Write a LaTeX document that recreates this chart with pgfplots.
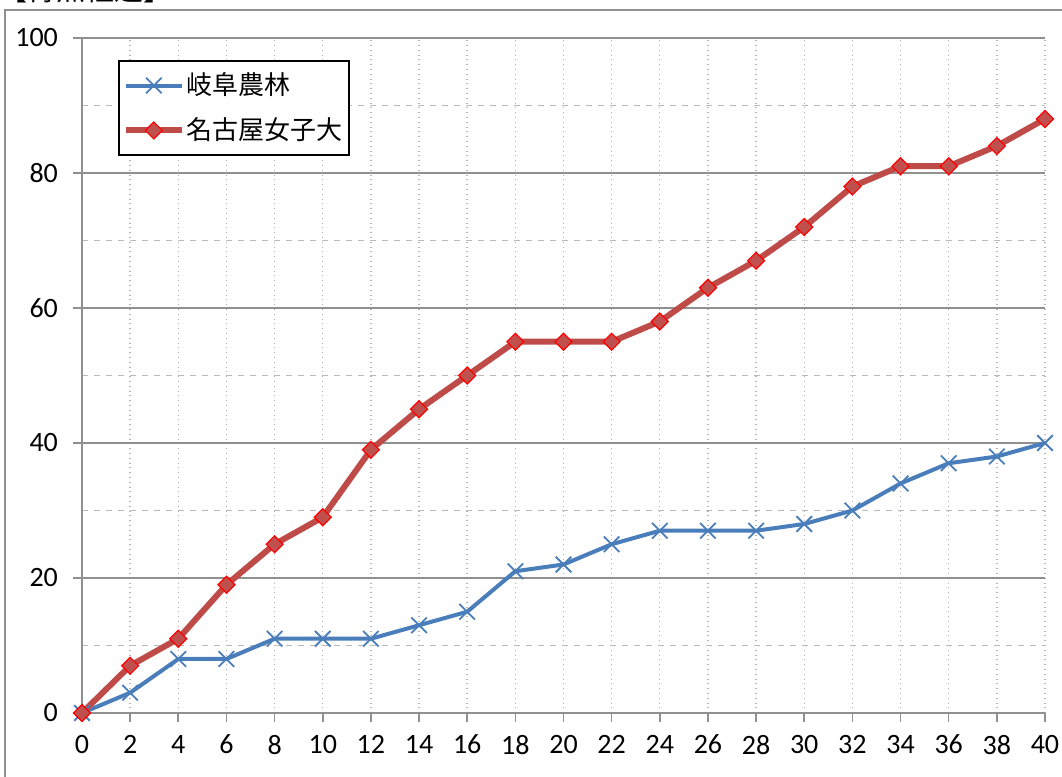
\documentclass[border=0pt]{standalone}
\usepackage{fontspec}
\setmainfont{Carlito}
\newfontfamily\jp{Noto Sans CJK JP}
\usepackage{pgfplots}
\pgfplotsset{compat=1.18}
\definecolor{bl}{HTML}{4A7EBB}
\definecolor{rd}{HTML}{BE4B48}
\definecolor{rdf}{HTML}{C0504D}
\definecolor{gr}{HTML}{909090}
\begin{document}
\begin{tikzpicture}
\useasboundingbox (0,0) rectangle (531pt,388.5pt);
\draw[gr, line width=0.7pt] (2.5pt,-5pt) rectangle (540pt,383.5pt);
\node[anchor=base west, inner sep=0pt, font=\jp\fontsize{14.5}{15}\selectfont] at (-1pt,388pt) {【得点経過】};
\begin{axis}[
  at={(41pt,32pt)}, anchor=south west,
  width=481.5pt, height=337.5pt, scale only axis,
  xmin=0, xmax=40, ymin=0, ymax=100,
  xtick={0,2,...,40}, ytick={0,20,...,100},
  minor ytick={10,30,...,90},
  axis x line=bottom, axis y line=left,
  axis line style={-, gr, line width=0.8pt},
  tick align=outside,
  major tick length=4.5pt, minor tick length=0pt,
  tick style={gr, line width=0.8pt},
  xmajorgrids, ymajorgrids, yminorgrids,
  major x grid style={gray!60, dotted, line width=0.7pt},
  major y grid style={gr, solid, line width=0.7pt},
  minor y grid style={gray!55, dashed, line width=0.7pt},
  ticklabel style={font=\fontsize{14}{15}\selectfont},
  /pgf/number format/assume math mode=true,
  yticklabel style={xshift=-4pt},
  xticklabel style={yshift=-3pt},
  clip=false,
  legend style={at={(0.0374,0.967)}, anchor=north west, draw=black, line width=0.8pt,
    font=\jp\fontsize{13}{14}\selectfont, row sep=6pt, inner xsep=2pt, inner ysep=4pt,
    nodes={inner xsep=1pt, inner ysep=2pt}},
  legend cell align=left,
  legend image code/.code={\draw[mark repeat=2,mark phase=2] plot coordinates {(0pt,0pt) (14pt,0pt) (28pt,0pt)};},
]
\addplot[bl, line width=2pt, mark=x, mark size=5.5pt, mark options={line width=0.9pt, solid}] coordinates {
(0,0)(2,3)(4,8)(6,8)(8,11)(10,11)(12,11)(14,13)(16,15)(18,21)(20,22)(22,25)(24,27)(26,27)(28,27)(30,28)(32,30)(34,34)(36,37)(38,38)(40,40)};
\addlegendentry{岐阜農林}
\addplot[rd, line width=3pt, mark=square*, mark size=3pt, mark options={rotate=45, fill=rdf, draw=red, line width=0.6pt, solid}] coordinates {
(0,0)(2,7)(4,11)(6,19)(8,25)(10,29)(12,39)(14,45)(16,50)(18,55)(20,55)(22,55)(24,58)(26,63)(28,67)(30,72)(32,78)(34,81)(36,81)(38,84)(40,88)};
\addlegendentry{名古屋女子大}
\end{axis}
\end{tikzpicture}
\end{document}
